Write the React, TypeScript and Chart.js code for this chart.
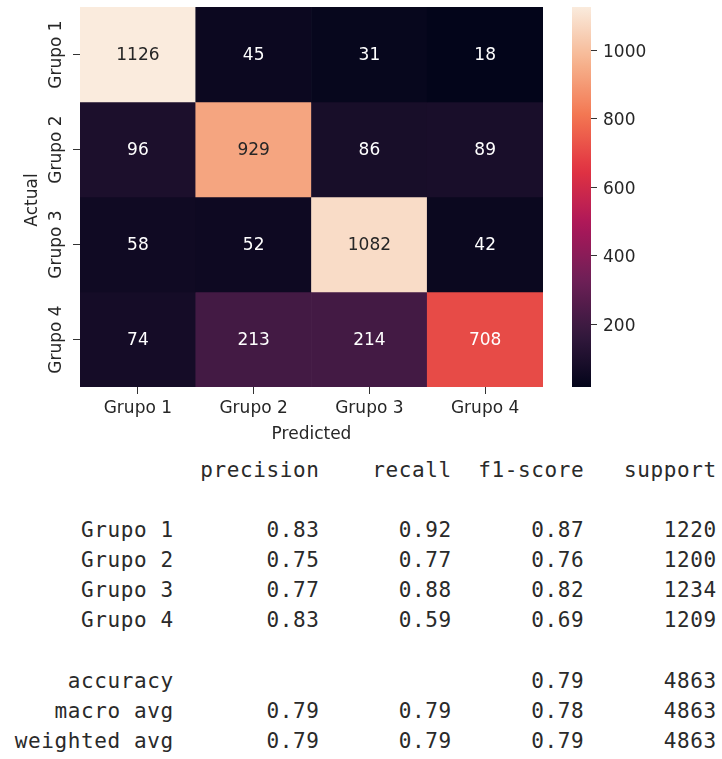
import { useEffect, useRef } from "react";
import { Chart, registerables } from "chart.js";

Chart.register(...registerables);

// Confusion matrix: rows are the actual class, columns the predicted class.
const groups = ["Grupo 1", "Grupo 2", "Grupo 3", "Grupo 4"];
const actualGrupo1 = [1126, 45, 31, 18];
const actualGrupo2 = [96, 929, 86, 89];
const actualGrupo3 = [58, 52, 1082, 42];
const actualGrupo4 = [74, 213, 214, 708];
const confusion = [actualGrupo1, actualGrupo2, actualGrupo3, actualGrupo4];

const colorbarTicks = [200, 400, 600, 800, 1000];

// Classification report
const reportHeader = ["precision", "recall", "f1-score", "support"];
const precision = [0.83, 0.75, 0.77, 0.83];
const recall = [0.92, 0.77, 0.88, 0.59];
const f1Score = [0.87, 0.76, 0.82, 0.69];
const support = [1220, 1200, 1234, 1209];
const accuracy = 0.79;
const totalSupport = 4863;
const macroAvg = [0.79, 0.79, 0.78];
const weightedAvg = [0.79, 0.79, 0.79];

const allCounts = confusion.flat();
const vmin = Math.min(...allCounts);
const vmax = Math.max(...allCounts);

// "rocket" colormap anchor colours
const rocketStops: [number, number[]][] = [
  [0, [3, 5, 26]],
  [1 / 7, [0x35, 0x19, 0x3e]],
  [2 / 7, [0x70, 0x1f, 0x57]],
  [3 / 7, [0xad, 0x17, 0x59]],
  [4 / 7, [0xe1, 0x33, 0x42]],
  [5 / 7, [0xf3, 0x76, 0x51]],
  [6 / 7, [0xf6, 0xb4, 0x8f]],
  [1, [0xfa, 0xeb, 0xdd]],
];

function rocketRgb(t: number): number[] {
  const f = Math.max(0, Math.min(1, t));
  for (let i = 1; i < rocketStops.length; i++) {
    const [p1, c1] = rocketStops[i];
    const [p0, c0] = rocketStops[i - 1];
    if (f <= p1) {
      const k = (f - p0) / (p1 - p0);
      return c0.map((c, j) => Math.round(c + (c1[j] - c) * k));
    }
  }
  return rocketStops[rocketStops.length - 1][1];
}

const rgbCss = (c: number[]) => `rgb(${c[0]},${c[1]},${c[2]})`;
const norm = (v: number) => (v - vmin) / (vmax - vmin);

function luminance(c: number[]) {
  const lin = c.map((x) => {
    const s = x / 255;
    return s <= 0.03928 ? s / 12.92 : Math.pow((s + 0.055) / 1.055, 2.4);
  });
  return 0.2126 * lin[0] + 0.7152 * lin[1] + 0.0722 * lin[2];
}

const FONT = "'DejaVu Sans', sans-serif";
const TEXT = "#262626";
const TICK = "#333333";

const heatmapLabels = {
  id: "heatmapLabels",
  afterDatasetsDraw(chart: any) {
    const c = chart.ctx;
    c.save();
    c.font = `17px ${FONT}`;
    c.textAlign = "center";
    c.textBaseline = "middle";
    chart.data.datasets.forEach((_: any, r: number) => {
      const meta = chart.getDatasetMeta(r);
      meta.data.forEach((bar: any, col: number) => {
        const { x, y, base } = bar.getProps(["x", "y", "base"], true);
        const v = confusion[r][col];
        c.fillStyle = luminance(rocketRgb(norm(v))) > 0.408 ? TEXT : "#ffffff";
        c.fillText(String(v), x, (y + base) / 2 + 1);
      });
    });
    c.restore();
  },
  afterDraw(chart: any) {
    const c = chart.ctx;
    const ys = chart.scales.y;
    const area = chart.chartArea;
    c.save();
    c.font = `17px ${FONT}`;
    c.fillStyle = TEXT;
    c.textAlign = "center";
    c.textBaseline = "middle";
    groups.forEach((g, i) => {
      const py = ys.getPixelForValue(i + 0.5);
      c.save();
      c.translate(area.left - 23, py);
      c.rotate(-Math.PI / 2);
      c.fillText(g, 0, 0);
      c.restore();
    });
    c.save();
    c.translate(area.left - 47, (area.top + area.bottom) / 2 + 3);
    c.rotate(-Math.PI / 2);
    c.fillText("Actual", 0, 0);
    c.restore();
    c.fillText("Predicted", (area.left + area.right) / 2, area.bottom + 48);
    c.restore();
  },
};

function ConfusionHeatmap() {
  const ref = useRef<HTMLCanvasElement>(null);
  useEffect(() => {
    if (!ref.current) return;
    const chart = new Chart(ref.current, {
      type: "bar",
      data: {
        labels: groups,
        datasets: confusion.map((row, r) => ({
          label: groups[r],
          data: row.map(() => [r, r + 1]),
          backgroundColor: row.map((v) => rgbCss(rocketRgb(norm(v)))),
          borderWidth: 0,
          barPercentage: 1,
          categoryPercentage: 1,
          grouped: false,
        })),
      } as any,
      options: {
        responsive: false,
        animation: false,
        layout: { padding: { top: 7, right: 17, left: 0, bottom: 0 } },
        plugins: { legend: { display: false }, tooltip: { enabled: false } },
        scales: {
          x: {
            type: "category",
            offset: true,
            border: { display: false },
            grid: {
              offset: false,
              drawOnChartArea: false,
              drawTicks: true,
              tickLength: 7,
              color: TICK,
            },
            ticks: {
              color: TEXT,
              font: { size: 17, family: FONT },
              padding: 4,
              minRotation: 0,
              maxRotation: 0,
            },
            afterFit: (s: any) => {
              s.height = 63;
            },
          },
          y: {
            type: "linear",
            min: 0,
            max: groups.length,
            reverse: true,
            border: { display: false },
            afterBuildTicks: (s: any) => {
              s.ticks = groups.map((_, i) => ({ value: i + 0.5 }));
            },
            grid: {
              drawOnChartArea: false,
              drawTicks: true,
              tickLength: 7,
              color: TICK,
            },
            ticks: { display: false },
            afterFit: (s: any) => {
              s.width = 80;
            },
          },
        },
      } as any,
      plugins: [heatmapLabels],
    });
    return () => chart.destroy();
  }, []);
  return (
    <canvas
      ref={ref}
      width={560}
      height={450}
      style={{ position: "absolute", left: 0, top: 0 }}
    />
  );
}

function Colorbar() {
  const ref = useRef<HTMLCanvasElement>(null);
  useEffect(() => {
    if (!ref.current) return;
    const chart = new Chart(ref.current, {
      type: "bar",
      data: {
        labels: [""],
        datasets: [
          {
            data: [[vmin, vmax]],
            backgroundColor: (ctx: any) => {
              const area = ctx.chart.chartArea;
              if (!area) return "#000";
              const g = ctx.chart.ctx.createLinearGradient(0, area.bottom, 0, area.top);
              for (let i = 0; i <= 32; i++) {
                g.addColorStop(i / 32, rgbCss(rocketRgb(i / 32)));
              }
              return g;
            },
            borderWidth: 0,
            barPercentage: 1,
            categoryPercentage: 1,
          },
        ],
      } as any,
      options: {
        responsive: false,
        animation: false,
        layout: { padding: { top: 7, bottom: 63, left: 12, right: 0 } },
        plugins: { legend: { display: false }, tooltip: { enabled: false } },
        scales: {
          x: { display: false },
          y: {
            position: "right",
            min: vmin,
            max: vmax,
            border: { display: false },
            afterBuildTicks: (s: any) => {
              s.ticks = colorbarTicks.map((v) => ({ value: v }));
            },
            grid: {
              drawOnChartArea: false,
              drawTicks: true,
              tickLength: 6,
              color: TICK,
            },
            ticks: {
              padding: 6,
              labelOffset: 2,
              color: TEXT,
              font: { size: 17, family: FONT },
              callback: (v: any) => String(v),
            },
            afterFit: (s: any) => {
              s.width = 131;
              // the colour bar spans the full value range; no label overhang
              s.paddingTop = 0;
              s.paddingBottom = 0;
            },
          },
        },
      } as any,
    });
    return () => chart.destroy();
  }, []);
  return (
    <canvas
      ref={ref}
      width={162}
      height={450}
      style={{ position: "absolute", left: 560, top: 0 }}
    />
  );
}

const fmt = (v: number) => v.toFixed(2);
const LABEL_W = 12;
const col = (s: string) => " " + s.padStart(9);

function reportLines(): string[] {
  const lines: string[] = [];
  lines.push(" ".repeat(LABEL_W) + " " + reportHeader.map(col).join(""));
  lines.push("");
  groups.forEach((g, i) => {
    lines.push(
      g.padStart(LABEL_W) +
        " " +
        [precision[i], recall[i], f1Score[i]].map((v) => col(fmt(v))).join("") +
        col(String(support[i]))
    );
  });
  lines.push("");
  lines.push(
    "accuracy".padStart(LABEL_W) + " " + col("") + col("") + col(fmt(accuracy)) + col(String(totalSupport))
  );
  lines.push(
    "macro avg".padStart(LABEL_W) + " " + macroAvg.map((v) => col(fmt(v))).join("") + col(String(totalSupport))
  );
  lines.push(
    "weighted avg".padStart(LABEL_W) + " " + weightedAvg.map((v) => col(fmt(v))).join("") + col(String(totalSupport))
  );
  return lines;
}

export default function App() {
  return (
    <div style={{ position: "absolute", left: 0, top: 0, width: 722, height: 759, background: "#fff" }}>
      <ConfusionHeatmap />
      <Colorbar />
      <pre
        style={{
          position: "absolute",
          left: 14.8,
          top: 454.6,
          margin: 0,
          fontFamily: "'DejaVu Sans Mono', monospace",
          fontSize: 21,
          letterSpacing: "0.6px",
          lineHeight: "30.15px",
          color: "#2a2a2a",
        }}
      >
        {reportLines().join("\n")}
      </pre>
    </div>
  );
}
